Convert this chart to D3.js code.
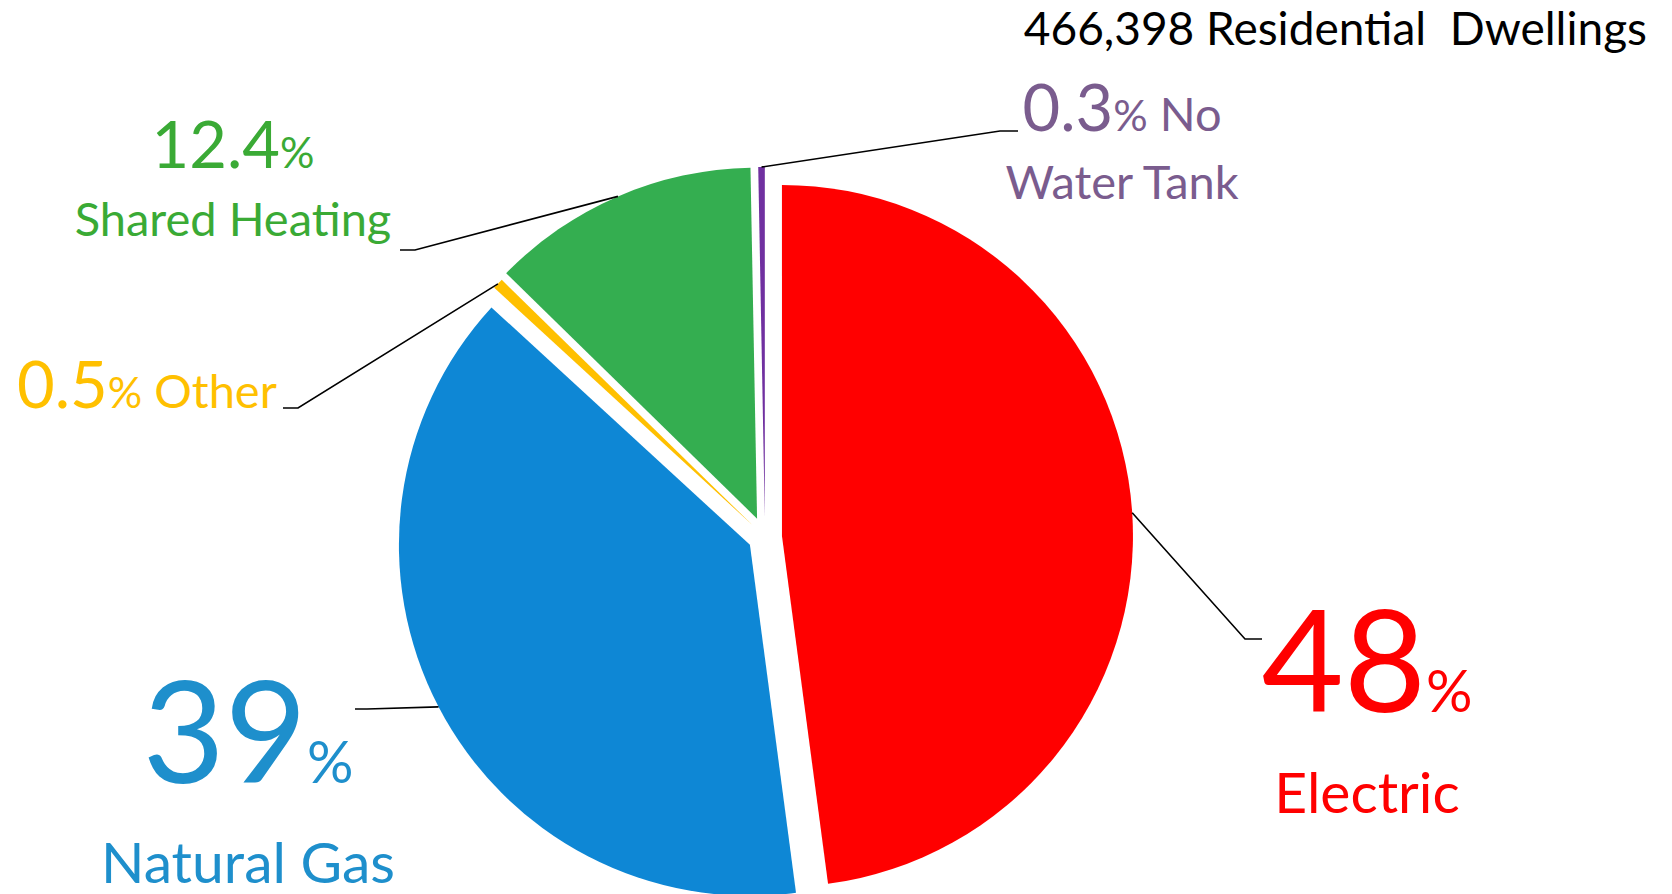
<!DOCTYPE html>
<html>
<head>
<meta charset="utf-8">
<script src="https://cdn.jsdelivr.net/npm/d3@7/dist/d3.min.js"></script>
<style>
  html, body { margin: 0; padding: 0; background: #ffffff; }
  svg { display: block; font-family: Lato, "Noto Sans", sans-serif; }
</style>
</head>
<body>
<svg id="chart" width="1672" height="894"></svg>
<script>
// ---- data ----
const categories  = ["Electric", "Natural Gas", "Other", "Shared Heating", "No Water Tank"];
const values      = [48, 39, 0.5, 12.4, 0.3];
const valueLabels = ["48", "39", "0.5", "12.4", "0.3"];
const nameLines   = [["Electric"], ["Natural Gas"], ["Other"], ["Shared Heating"], ["No", "Water Tank"]];
const sliceColors = ["#FF0000", "#0E87D5", "#FFC000", "#34AE50", "#7030A0"];
const textColors  = ["#FF0000", "#1E8FCC", "#FFC000", "#3AAA35", "#7A5C8E"];
const titleText   = "466,398 Residential\u00A0 Dwellings";

// ---- layout (positions, not data) ----
const cx = 765, cy = 537, radius = 351;
const explodeBy = [17, 17, 17, 20, 19];
const layout = [
  { elbow: [1245, 639], end: [1262, 639], style: "big",   x: 1367, y1: 712, y2: 813 },
  { elbow: [367, 709],  end: [355, 709],  style: "big",   x: 248,  y1: 783, y2: 883 },
  { elbow: [298, 408],  end: [283, 408],  style: "inline", x: 17,  y1: 408 },
  { elbow: [415, 250],  end: [400, 250],  style: "mid",   x: 233,  y1: 168, y2: 236 },
  { elbow: [1000, 131], end: [1018, 131], style: "midInline", x: 1122, y1: 131, y2: 199 }
];

const svg = d3.select("#chart");
svg.append("rect").attr("width", 1672).attr("height", 894).attr("fill", "#fff");

const pie = d3.pie().sort(null).value(d => d)(values);
const arc = d3.arc().innerRadius(0).outerRadius(radius);

const g = svg.append("g").attr("transform", `translate(${cx},${cy})`);

function offset(d) {
  const a = (d.startAngle + d.endAngle) / 2;
  const e = explodeBy[d.index];
  return [Math.sin(a) * e, -Math.cos(a) * e];
}

g.selectAll("path.slice")
  .data(pie)
  .join("path")
  .attr("class", "slice")
  .attr("transform", d => { const o = offset(d); return `translate(${o[0]},${o[1]})`; })
  .attr("d", arc)
  .attr("fill", (d, i) => sliceColors[i]);

// leader lines
svg.selectAll("path.leader")
  .data(pie)
  .join("path")
  .attr("class", "leader")
  .attr("fill", "none")
  .attr("stroke", "#000")
  .attr("stroke-width", 1.6)
  .attr("d", (d, i) => {
    const a = (d.startAngle + d.endAngle) / 2;
    const o = offset(d);
    const sx = cx + o[0] + Math.sin(a) * radius;
    const sy = cy + o[1] - Math.cos(a) * radius;
    const L = layout[i];
    return d3.line()([[sx, sy], L.elbow, L.end]);
  });

// labels
const sizes = {
  big:      { num: 142, pct: 58, name: 57 },
  mid:      { num: 65,  pct: 43, name: 47 },
  inline:   { num: 65,  pct: 43, name: 47 },
  midInline:{ num: 65,  pct: 43, name: 47 }
};

layout.forEach((L, i) => {
  const s = sizes[L.style];
  const col = textColors[i];
  if (L.style === "inline") {
    const t = svg.append("text").attr("x", L.x).attr("y", L.y1).attr("fill", col);
    t.append("tspan").attr("font-size", s.num).text(valueLabels[i]);
    t.append("tspan").attr("font-size", s.pct).text("%");
    t.append("tspan").attr("font-size", s.name).text("\u00A0" + nameLines[i][0]);
  } else if (L.style === "midInline") {
    const t = svg.append("text").attr("x", L.x).attr("y", L.y1).attr("fill", col)
      .attr("text-anchor", "middle");
    t.append("tspan").attr("font-size", s.num).text(valueLabels[i]);
    t.append("tspan").attr("font-size", s.pct).text("%");
    t.append("tspan").attr("font-size", s.name).text("\u00A0" + nameLines[i][0]);
    svg.append("text").attr("x", L.x).attr("y", L.y2).attr("fill", col)
      .attr("text-anchor", "middle").attr("font-size", s.name).text(nameLines[i][1]);
  } else {
    const t = svg.append("text").attr("x", L.x).attr("y", L.y1).attr("fill", col)
      .attr("text-anchor", "middle");
    t.append("tspan").attr("font-size", s.num).text(valueLabels[i]);
    t.append("tspan").attr("font-size", s.pct).text("%");
    svg.append("text").attr("x", L.x).attr("y", L.y2).attr("fill", col)
      .attr("text-anchor", "middle").attr("font-size", s.name).text(nameLines[i][0]);
  }
});

// title
svg.append("text")
  .attr("x", 1647).attr("y", 45)
  .attr("text-anchor", "end")
  .attr("font-size", 46)
  .attr("fill", "#000")
  .text(titleText);
</script>
</body>
</html>
